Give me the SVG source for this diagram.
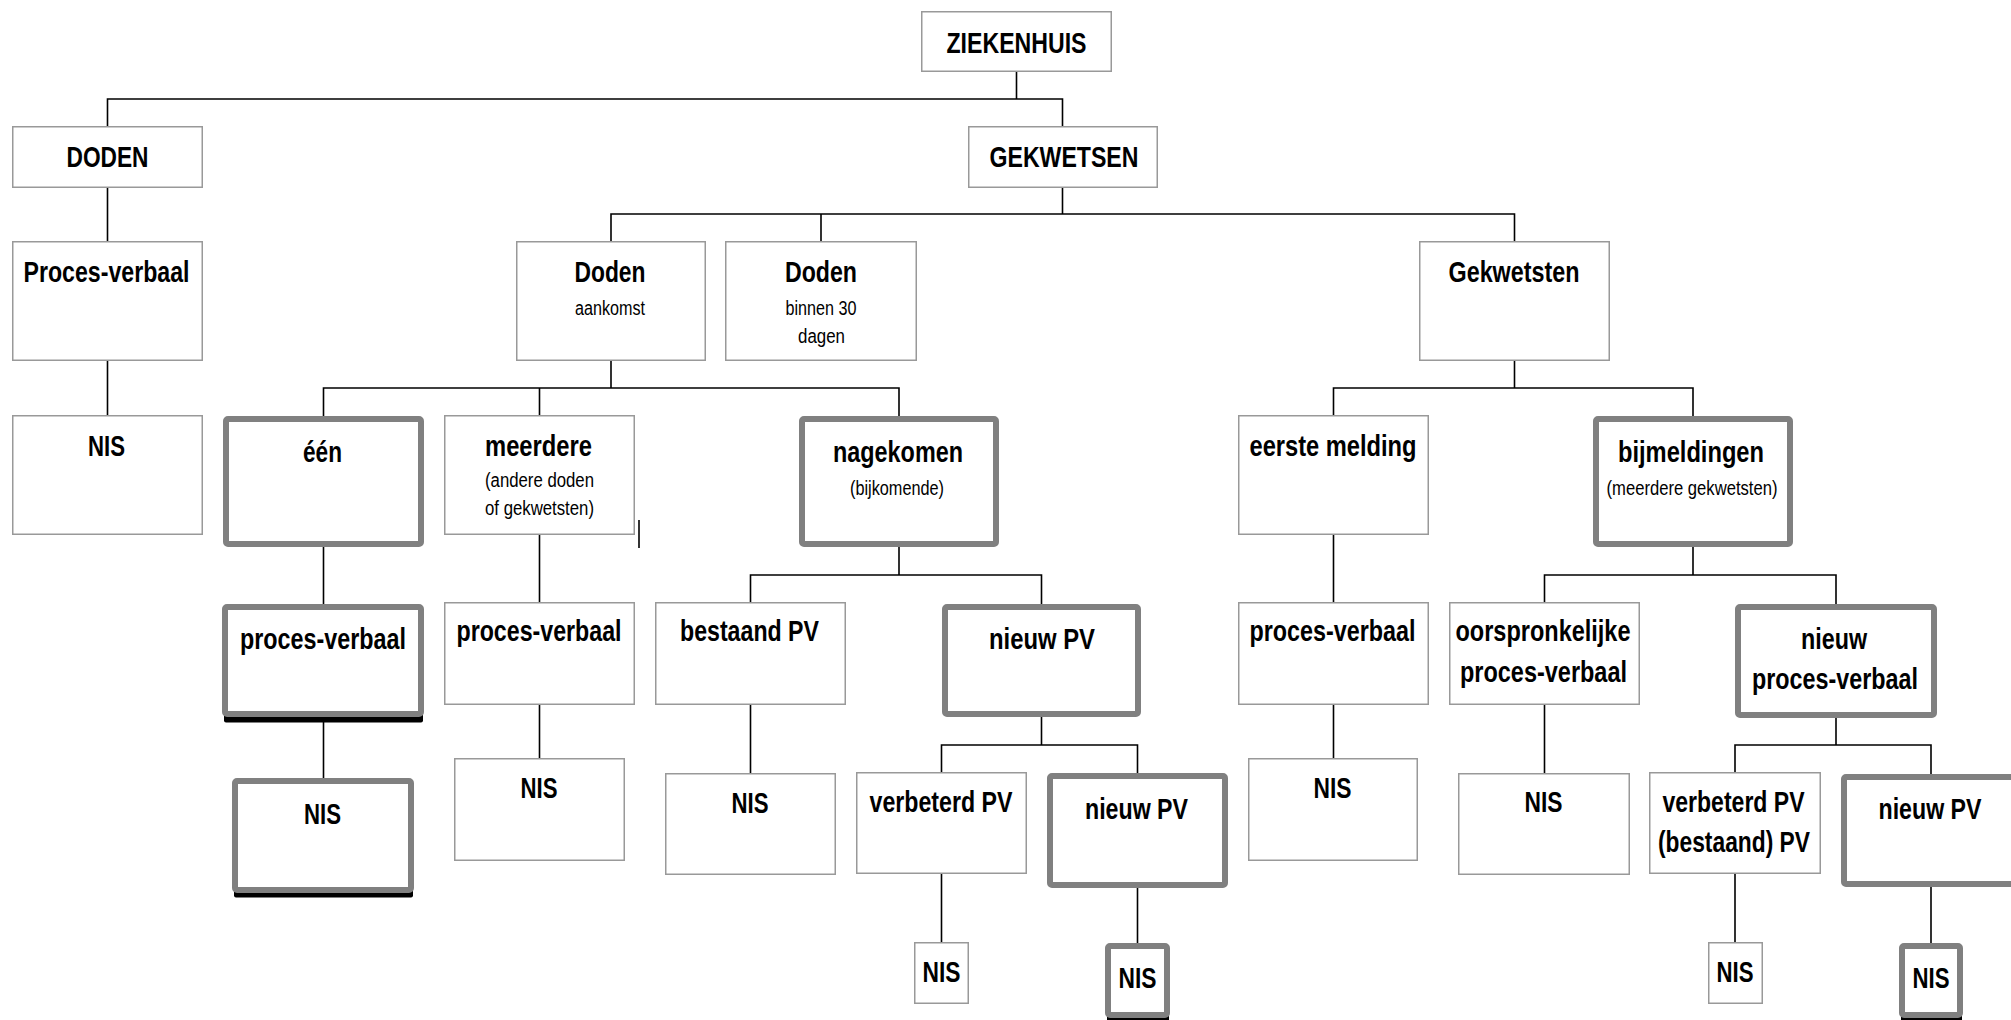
<svg xmlns="http://www.w3.org/2000/svg" width="2011" height="1020" viewBox="0 0 2011 1020">
<style>
.t{fill:#fff;stroke:#999;stroke-width:1.5}
.k{fill:#fff;stroke:#808080;stroke-width:6;stroke-linejoin:round}
.sh{fill:#000}
.c{stroke:#000;stroke-width:1.6;fill:none}
text{font-family:"Liberation Sans Narrow","Liberation Sans",Arial,sans-serif;text-anchor:middle;fill:#000}
.b{font-weight:bold;font-size:30px}
.r{font-weight:normal;font-size:20px}
</style>
<rect width="2011" height="1020" fill="#fff"/>
<g id="connectors">
<path class="c" d="M1016.5 72V99M107.5 126V99H1062.5V126"/>
<path class="c" d="M107.5 188V241M107.5 361V415"/>
<path class="c" d="M1062.5 188V214M611 241V214H1514.5V241M821 214V241"/>
<path class="c" d="M611 361V388M323.5 416V388H899V416M539.5 388V415"/>
<path class="c" d="M1514.5 361V388M1333.5 415V388H1693V416"/>
<path class="c" d="M323.5 547V604M323.5 722V778"/>
<path class="c" d="M539.5 535V602M539.5 705V758"/>
<path class="c" d="M899 547V575M750.5 602V575H1041.5V604M750.5 705V773"/>
<path class="c" d="M1041.5 717V745M941.5 772V745H1137.5V773M941.5 874V942M1137.5 888V943"/>
<path class="c" d="M1333.5 535V602M1333.5 705V758"/>
<path class="c" d="M1693 547V575M1544.5 602V575H1836V604M1544.5 705V773"/>
<path class="c" d="M1836 718V745M1735 772V745H1931V774M1735 874V942M1931 887V943"/>
<path class="c" d="M639 520V548" stroke-width="2.2"/>
</g>
<g id="ziekenhuis"><rect class="t" x="921.75" y="11.75" width="189.5" height="59.5"/><text class="b" x="1016.5" y="52.5" textLength="140" lengthAdjust="spacingAndGlyphs">ZIEKENHUIS</text></g>
<g id="doden"><rect class="t" x="12.75" y="126.75" width="189.5" height="60.5"/><text class="b" x="107.5" y="166.7" textLength="82" lengthAdjust="spacingAndGlyphs">DODEN</text></g>
<g id="gekwetsen"><rect class="t" x="968.75" y="126.75" width="188.5" height="60.5"/><text class="b" x="1064" y="167" textLength="149" lengthAdjust="spacingAndGlyphs">GEKWETSEN</text></g>
<g id="pv-doden"><rect class="t" x="12.75" y="241.75" width="189.5" height="118.5"/><text class="b" x="106.5" y="281.7" textLength="166" lengthAdjust="spacingAndGlyphs">Proces-verbaal</text></g>
<g id="doden-aankomst"><rect class="t" x="516.75" y="241.75" width="188.5" height="118.5"/><text class="b" x="610" y="281.7" textLength="71" lengthAdjust="spacingAndGlyphs">Doden</text><text class="r" x="610" y="315" textLength="70" lengthAdjust="spacingAndGlyphs">aankomst</text></g>
<g id="doden-30"><rect class="t" x="725.75" y="241.75" width="190.5" height="118.5"/><text class="b" x="821" y="281.7" textLength="72" lengthAdjust="spacingAndGlyphs">Doden</text><text class="r" x="821" y="315" textLength="71" lengthAdjust="spacingAndGlyphs">binnen 30</text><text class="r" x="821.5" y="343" textLength="47" lengthAdjust="spacingAndGlyphs">dagen</text></g>
<g id="gekwetsten"><rect class="t" x="1419.75" y="241.75" width="189.5" height="118.5"/><text class="b" x="1514" y="281.7" textLength="131" lengthAdjust="spacingAndGlyphs">Gekwetsten</text></g>
<g id="nis-doden"><rect class="t" x="12.75" y="415.75" width="189.5" height="118.5"/><text class="b" x="106.5" y="455.5" textLength="37" lengthAdjust="spacingAndGlyphs">NIS</text></g>
<g id="een"><rect class="k" x="226" y="419" width="195" height="125" rx="2"/><text class="b" x="322.5" y="462" textLength="39" lengthAdjust="spacingAndGlyphs">één</text></g>
<g id="meerdere"><rect class="t" x="444.75" y="415.75" width="189.5" height="118.5"/><text class="b" x="538.5" y="455.5" textLength="107" lengthAdjust="spacingAndGlyphs">meerdere</text><text class="r" x="539.5" y="487" textLength="109" lengthAdjust="spacingAndGlyphs">(andere doden</text><text class="r" x="539.5" y="514.7" textLength="109" lengthAdjust="spacingAndGlyphs">of gekwetsten)</text></g>
<g id="nagekomen"><rect class="k" x="802" y="419" width="194" height="125" rx="2"/><text class="b" x="898" y="461.6" textLength="130" lengthAdjust="spacingAndGlyphs">nagekomen</text><text class="r" x="897" y="495" textLength="94" lengthAdjust="spacingAndGlyphs">(bijkomende)</text></g>
<g id="eerste-melding"><rect class="t" x="1238.75" y="415.75" width="189.5" height="118.5"/><text class="b" x="1333" y="455.5" textLength="167" lengthAdjust="spacingAndGlyphs">eerste melding</text></g>
<g id="bijmeldingen"><rect class="k" x="1596" y="419" width="194" height="125" rx="2"/><text class="b" x="1691" y="461.6" textLength="146" lengthAdjust="spacingAndGlyphs">bijmeldingen</text><text class="r" x="1692" y="495" textLength="171" lengthAdjust="spacingAndGlyphs">(meerdere gekwetsten)</text></g>
<g id="pv-een"><rect class="sh" x="224" y="712" width="199" height="10.5" rx="2"/><rect class="k" x="225" y="607" width="196" height="107" rx="2"/><text class="b" x="323" y="649.4" textLength="166" lengthAdjust="spacingAndGlyphs">proces-verbaal</text></g>
<g id="pv-meerdere"><rect class="t" x="444.75" y="602.75" width="189.5" height="101.5"/><text class="b" x="539" y="641" textLength="165" lengthAdjust="spacingAndGlyphs">proces-verbaal</text></g>
<g id="bestaand-pv"><rect class="t" x="655.75" y="602.75" width="189.5" height="101.5"/><text class="b" x="749.5" y="641" textLength="139" lengthAdjust="spacingAndGlyphs">bestaand PV</text></g>
<g id="nieuw-pv-1"><rect class="k" x="945" y="607" width="193" height="107" rx="2"/><text class="b" x="1042" y="649.4" textLength="106" lengthAdjust="spacingAndGlyphs">nieuw PV</text></g>
<g id="pv-eerste"><rect class="t" x="1238.75" y="602.75" width="189.5" height="101.5"/><text class="b" x="1332.5" y="641" textLength="166" lengthAdjust="spacingAndGlyphs">proces-verbaal</text></g>
<g id="oorspronkelijke"><rect class="t" x="1449.75" y="602.75" width="189.5" height="101.5"/><text class="b" x="1543" y="641" textLength="175" lengthAdjust="spacingAndGlyphs">oorspronkelijke</text><text class="b" x="1543.5" y="682" textLength="167" lengthAdjust="spacingAndGlyphs">proces-verbaal</text></g>
<g id="nieuw-proces-verbaal"><rect class="k" x="1738" y="607" width="196" height="108" rx="2"/><text class="b" x="1834" y="649.4" textLength="66" lengthAdjust="spacingAndGlyphs">nieuw</text><text class="b" x="1835" y="689" textLength="166" lengthAdjust="spacingAndGlyphs">proces-verbaal</text></g>
<g id="nis-een"><rect class="sh" x="234" y="887" width="179" height="10.5" rx="2"/><rect class="k" x="235" y="781" width="176" height="109" rx="2"/><text class="b" x="322.5" y="824" textLength="37" lengthAdjust="spacingAndGlyphs">NIS</text></g>
<g id="nis-meerdere"><rect class="t" x="454.75" y="758.75" width="169.5" height="101.5"/><text class="b" x="539" y="798" textLength="37" lengthAdjust="spacingAndGlyphs">NIS</text></g>
<g id="nis-bestaand"><rect class="t" x="665.75" y="773.75" width="169.5" height="100.5"/><text class="b" x="750" y="812.7" textLength="37" lengthAdjust="spacingAndGlyphs">NIS</text></g>
<g id="verbeterd-pv-1"><rect class="t" x="856.75" y="772.75" width="169.5" height="100.5"/><text class="b" x="941" y="812" textLength="143" lengthAdjust="spacingAndGlyphs">verbeterd PV</text></g>
<g id="nieuw-pv-2"><rect class="k" x="1050" y="776" width="175" height="109" rx="2"/><text class="b" x="1136.5" y="819.3" textLength="103" lengthAdjust="spacingAndGlyphs">nieuw PV</text></g>
<g id="nis-eerste"><rect class="t" x="1248.75" y="758.75" width="168.5" height="101.5"/><text class="b" x="1332.5" y="798" textLength="38" lengthAdjust="spacingAndGlyphs">NIS</text></g>
<g id="nis-oorspronkelijke"><rect class="t" x="1458.75" y="773.75" width="170.5" height="100.5"/><text class="b" x="1543.5" y="812" textLength="38" lengthAdjust="spacingAndGlyphs">NIS</text></g>
<g id="verbeterd-pv-2"><rect class="t" x="1649.75" y="772.75" width="170.5" height="100.5"/><text class="b" x="1733.5" y="812" textLength="142" lengthAdjust="spacingAndGlyphs">verbeterd PV</text><text class="b" x="1734" y="852" textLength="152" lengthAdjust="spacingAndGlyphs">(bestaand) PV</text></g>
<g id="nieuw-pv-3"><rect class="k" x="1844" y="777" width="174" height="107" rx="2"/><text class="b" x="1930" y="819.3" textLength="103" lengthAdjust="spacingAndGlyphs">nieuw PV</text></g>
<g id="nis-verbeterd-1"><rect class="t" x="914.75" y="942.75" width="53.5" height="60.5"/><text class="b" x="941.5" y="982" textLength="38" lengthAdjust="spacingAndGlyphs">NIS</text></g>
<g id="nis-nieuw-1"><rect class="sh" x="1107" y="1012" width="62" height="10" rx="2"/><rect class="k" x="1108" y="946" width="59" height="69" rx="2"/><text class="b" x="1137.5" y="988.3" textLength="38" lengthAdjust="spacingAndGlyphs">NIS</text></g>
<g id="nis-verbeterd-2"><rect class="t" x="1708.75" y="942.75" width="53.5" height="60.5"/><text class="b" x="1735" y="982" textLength="37" lengthAdjust="spacingAndGlyphs">NIS</text></g>
<g id="nis-nieuw-2"><rect class="sh" x="1901" y="1012" width="61" height="10" rx="2"/><rect class="k" x="1902" y="946" width="58" height="69" rx="2"/><text class="b" x="1931" y="988.3" textLength="37" lengthAdjust="spacingAndGlyphs">NIS</text></g>
</svg>
